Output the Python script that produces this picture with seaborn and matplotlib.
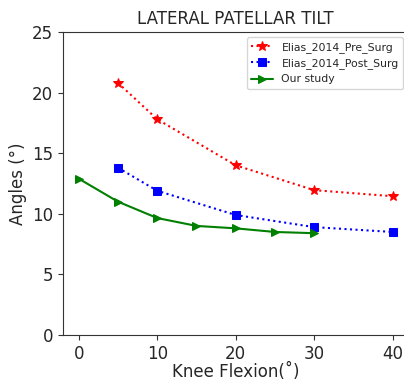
import pandas as pd
import matplotlib
matplotlib.use("Agg")
import matplotlib.pyplot as plt
import seaborn as sns

# Data
pre_x = [5, 10, 20, 30, 40]
pre_y = [20.8, 17.8, 14.0, 11.95, 11.45]

post_x = [5, 10, 20, 30, 40]
post_y = [13.8, 11.9, 9.9, 8.9, 8.5]

ours_x = [0, 5, 10, 15, 20, 25, 30]
ours_y = [12.9, 11.0, 9.65, 9.0, 8.8, 8.5, 8.4]

sns.set_style("white")
plt.rcParams['font.family'] = ['DejaVu Sans']

fig = plt.figure(figsize=(4.04, 3.82), dpi=100)
ax = fig.add_axes([63 / 404, 47 / 382, 345.5 / 404, 303 / 382])

pre = pd.DataFrame({'flexion': pre_x, 'angle': pre_y})
post = pd.DataFrame({'flexion': post_x, 'angle': post_y})
ours = pd.DataFrame({'flexion': ours_x, 'angle': ours_y})

sns.lineplot(data=pre, x='flexion', y='angle', ax=ax, color='red', linestyle=':',
             marker='*', markersize=7, markeredgecolor='red', linewidth=1.5,
             label='Elias_2014_Pre_Surg')
sns.lineplot(data=post, x='flexion', y='angle', ax=ax, color='blue', linestyle=':',
             marker='s', markersize=6, markeredgecolor='blue', linewidth=1.5,
             label='Elias_2014_Post_Surg')
sns.lineplot(data=ours, x='flexion', y='angle', ax=ax, color='green', linestyle='-',
             marker='>', markersize=6, markeredgecolor='green', linewidth=1.5,
             label='Our study')

ax.set_xlim(-2, 42)
ax.set_ylim(0, 25)
ax.set_xticks([0, 10, 20, 30, 40])
ax.set_yticks([0, 5, 10, 15, 20, 25])
ax.tick_params(axis='both', labelsize=12, length=3.5, width=0.8, color='#333333',
               bottom=True, left=True)
for s in ax.spines.values():
    s.set_color('#333333')
    s.set_linewidth(0.8)

ax.set_title("LATERAL PATELLAR TILT", fontsize=12)
ax.set_xlabel("Knee Flexion(˚)", fontsize=12, labelpad=0.5)
ax.set_ylabel("Angles (°)", fontsize=12)
ax.legend(loc='upper right', fontsize=7.8, frameon=True)

fig.savefig("out.png", dpi=100)
